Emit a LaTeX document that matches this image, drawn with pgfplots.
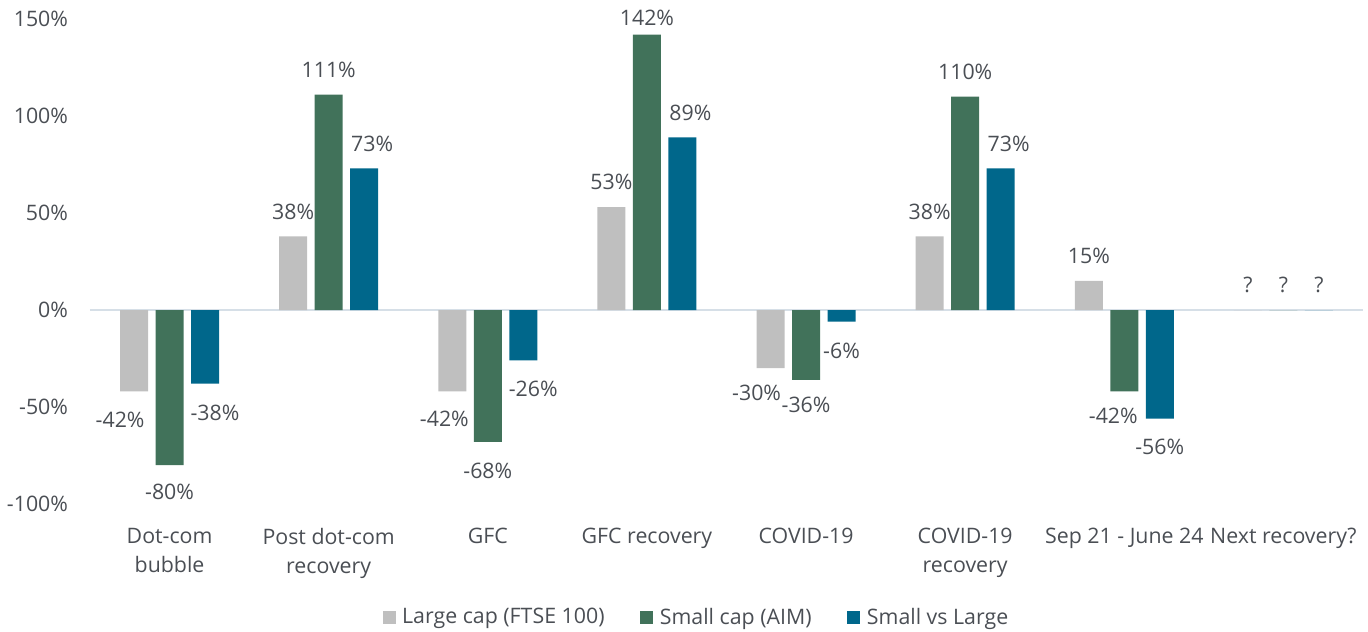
\documentclass[border=0pt]{standalone}
\usepackage{pgfplots}
\pgfplotsset{compat=1.18}
\usepackage{pgfplotstable}
\usepackage{fontspec}
\setmainfont{Open Sans}
\definecolor{cgray}{HTML}{BFBFBF}
\definecolor{cgreen}{HTML}{41725A}
\definecolor{cblue}{HTML}{00678B}
\definecolor{ctext}{HTML}{4A4E54}
\definecolor{czero}{HTML}{D6DFE7}

% dy for negative bars includes -36.8pt to put the label below the bar end
\pgfplotstableread{
x y lab dx dy
0 -42 -42 -10.5 -40.2
1 38 38 0 0
2 -42 -42 -6 -39.05
3 53 53 0 0
4 -30 -30 -10.5 -37.2
5 38 38 0 0
6 15 15 0 0
7 0 ? 0 0
}\tablarge

\pgfplotstableread{
x y lab dx dy
0 -80 -80 0 -38.7
1 111 111 0 0
2 -68 -68 0 -40.2
3 142 142 0 -6.4
4 -36 -36 0 -37.2
5 110 110 0 0
6 -42 -42 -8.25 -37.2
7 0 ? 0 0
}\tabsmall

\pgfplotstableread{
x y lab dx dy
0 -38 -38 7.5 -40.2
1 73 73 6 0
2 -26 -26 7.5 -40.2
3 89 89 6 0
4 -6 -6 0 -40.2
5 73 73 6 0
6 -56 -56 0 -39.8
7 0 ? 0 0
}\tabvs

\def\qmark{?}
\newcommand\barlabel{\edef\tmplab{\pgfplotspointmeta}\ifx\tmplab\qmark ?\else\tmplab\%\fi}

\begin{document}
\begin{tikzpicture}[font=\fontsize{16pt}{19pt}\selectfont, text=ctext]
\path[use as bounding box] (-67.5pt,-96pt) rectangle (958.5pt,378pt);
\begin{axis}[
  at={(0,0)}, anchor=south west,
  scale only axis,
  width=954.75pt, height=363.75pt,
  xmin=-0.5, xmax=7.5,
  ymin=-100, ymax=150,
  clip=false,
  axis line style={draw=none},
  tick style={draw=none},
  ytick={-100,-50,0,50,100,150},
  yticklabels={-100\%,-50\%,0\%,50\%,100\%,150\%},
  yticklabel style={xshift=-13pt, text=ctext},
  xtick={0,1,2,3,4,5,6,7},
  xticklabels={{Dot-com\\bubble},{Post dot-com\\recovery},{GFC},{GFC recovery},{COVID-19},{COVID-19\\recovery},{Sep 21 - June 24},{Next recovery?}},
  xticklabel style={align=center, font=\fontsize{16pt}{21.75pt}\selectfont, yshift=-10.3pt, text=ctext},
  ybar, bar width=21pt,
  point meta=explicit symbolic,
  nodes near coords={\barlabel},
  visualization depends on={\thisrow{dx} \as \dx},
  visualization depends on={\thisrow{dy} \as \dy},
  every node near coord/.append style={anchor=south, inner ysep=12.55pt, inner xsep=0pt, xshift=\dx pt, yshift=\dy pt, text=ctext, font=\fontsize{16pt}{19pt}\selectfont},
  legend columns=3,
  legend style={draw=none, fill=none, at={(0.4766,-0.2335)}, anchor=center,
    font=\fontsize{16pt}{19pt}\selectfont, text=ctext,
    /tikz/every even column/.append style={column sep=24.75pt},
    /tikz/every odd column/.append style={column sep=3pt}},
  legend image code/.code={\fill[#1] (0pt,-5pt) rectangle (9.75pt,5pt);},
]
\draw[czero, line width=1.1pt] (axis cs:-0.5,0) -- (axis cs:7.5,0);
\addplot[fill=cgray, draw=none, bar shift=-26.6pt] table[x=x, y=y, meta=lab] {\tablarge};
\addlegendentry{Large cap (FTSE 100)}
\addplot[fill=cgreen, draw=none, bar shift=0pt] table[x=x, y=y, meta=lab] {\tabsmall};
\addlegendentry{Small cap (AIM)}
\addplot[fill=cblue, draw=none, bar shift=26.6pt] table[x=x, y=y, meta=lab] {\tabvs};
\addlegendentry{Small vs Large}
\end{axis}
\end{tikzpicture}
\end{document}
